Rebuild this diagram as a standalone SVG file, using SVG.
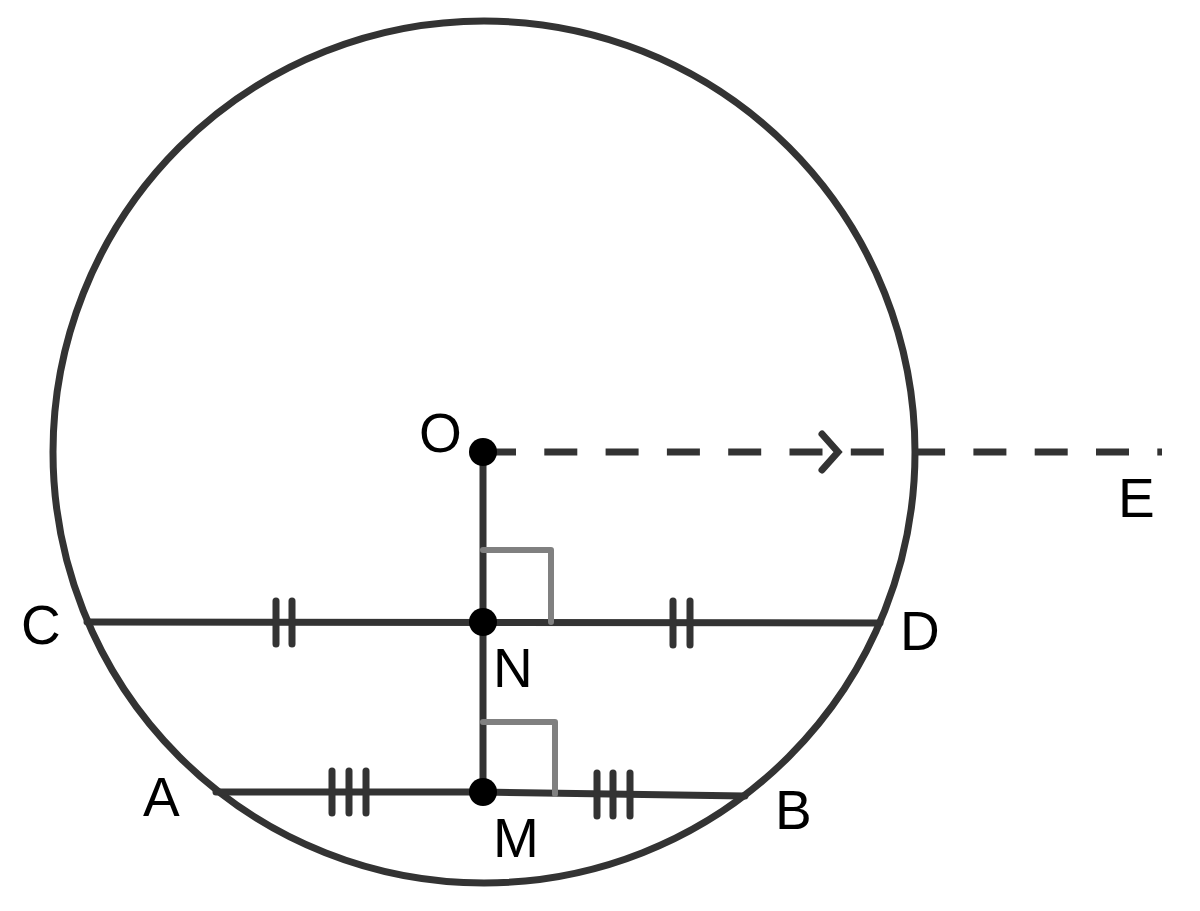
<svg xmlns="http://www.w3.org/2000/svg" width="1200" height="911" viewBox="0 0 1200 911">
<style>
.ln{stroke:#333333;stroke-width:7;fill:none;stroke-linecap:round}
.tk{stroke:#333333;stroke-width:7;fill:none;stroke-linecap:round}
.ra{stroke:#808080;stroke-width:6;fill:none;stroke-linecap:round;stroke-linejoin:round}
.dot{fill:#000000}
.lb{font-family:"Liberation Sans",Arial,sans-serif;font-size:55px;fill:#000000}
</style>
<rect width="1200" height="911" fill="#ffffff"/>
<g id="circle">
<circle cx="484" cy="452" r="431" stroke="#333333" stroke-width="7" fill="none"/>
</g>
<g id="connectors">
<line class="ln" x1="483" y1="452" x2="483" y2="792"/>
<line class="ln" x1="87" y1="622" x2="880" y2="623"/>
<line class="ln" x1="216" y1="792" x2="483" y2="792"/>
<line class="ln" x1="483" y1="792" x2="745" y2="796"/>
<line x1="483" y1="452" x2="1162" y2="452" stroke="#333333" stroke-width="7" stroke-dasharray="33 28.3"/>
<polyline class="ln" points="822,434 838,452 822,470"/>
<path class="ra" d="M483,550 H551 V622"/>
<path class="ra" d="M483,722 H555 V794"/>
<line class="tk" x1="276" y1="601" x2="276" y2="644"/>
<line class="tk" x1="292" y1="601" x2="292" y2="644"/>
<line class="tk" x1="673" y1="601" x2="673" y2="645"/>
<line class="tk" x1="690" y1="601" x2="690" y2="645"/>
<line class="tk" x1="332" y1="771" x2="332" y2="813"/>
<line class="tk" x1="349" y1="771" x2="349" y2="813"/>
<line class="tk" x1="366" y1="771" x2="366" y2="813"/>
<line class="tk" x1="597" y1="773" x2="597" y2="816"/>
<line class="tk" x1="613" y1="773" x2="613" y2="816"/>
<line class="tk" x1="630" y1="773" x2="630" y2="816"/>
</g>
<g id="node-O"><circle class="dot" cx="483" cy="452" r="14"/><text class="lb" x="419" y="452">O</text></g>
<g id="node-N"><circle class="dot" cx="483" cy="622" r="14"/><text class="lb" x="493" y="687">N</text></g>
<g id="node-M"><circle class="dot" cx="483" cy="792" r="14"/><text class="lb" x="493" y="857">M</text></g>
<g id="node-C"><text class="lb" x="21" y="644">C</text></g>
<g id="node-D"><text class="lb" x="900" y="650">D</text></g>
<g id="node-A"><text class="lb" x="143" y="816">A</text></g>
<g id="node-B"><text class="lb" x="775" y="829">B</text></g>
<g id="node-E"><text class="lb" x="1118" y="517">E</text></g>
</svg>
